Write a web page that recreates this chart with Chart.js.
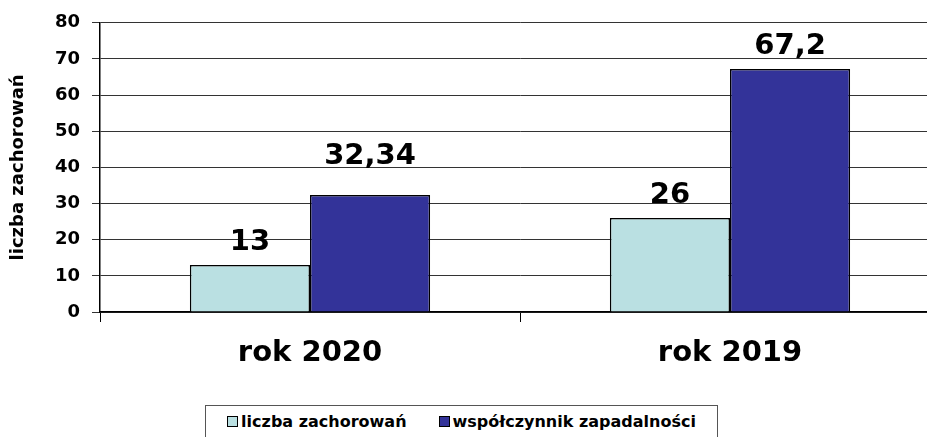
<!DOCTYPE html>
<html>
<head>
<meta charset="utf-8">
<script src="https://cdn.jsdelivr.net/npm/chart.js@4"></script>
<style>
  body { margin: 0; background: #fff; overflow: hidden; width: 927px; height: 437px; position: relative; }
  #wrap { position: absolute; left: 0; top: 0; width: 945px; height: 437px; }
  #legend {
    position: absolute; left: 205px; top: 405px; width: 513px; height: 40px;
    border: 1px solid #555; box-sizing: border-box; background: #fff;
    font: bold 16px "DejaVu Sans", sans-serif; color: #000;
    display: flex; align-items: flex-start; justify-content: center; padding-top: 6px;
  }
  #legend span.item { display: inline-flex; align-items: center; margin: 0 16px; }
  #legend span.box { width: 9px; height: 9px; border: 1px solid #000; margin-right: 3px; display: inline-block; }
</style>
</head>
<body>
<div id="wrap"><canvas id="chart"></canvas></div>
<div id="legend"></div>
<script>
const categories = ["rok 2020", "rok 2019"];
const seriesNames = ["liczba zachorowań", "współczynnik zapadalności"];
const cases = [13, 26];
const incidence = [32.34, 67.2];
const yTicks = [0, 10, 20, 30, 40, 50, 60, 70, 80];

const colors = ["#BAE0E2", "#333399"];
const FONT = "'DejaVu Sans', sans-serif";

// value labels above bars, polish decimal comma
const valueLabels = {
  id: "valueLabels",
  afterDatasetsDraw(chart, args, opts) {
    const ctx = chart.ctx;
    ctx.save();
    ctx.font = "bold 29px " + FONT;
    ctx.fillStyle = "#000";
    ctx.textAlign = "center";
    ctx.textBaseline = "alphabetic";
    chart.data.datasets.forEach((ds, i) => {
      const meta = chart.getDatasetMeta(i);
      meta.data.forEach((bar, j) => {
        const extra = (opts.extra[i] && opts.extra[i][j]) || 0;
        const text = String(ds.data[j]).replace(".", ",");
        ctx.fillText(text, bar.x, bar.y - 15 - extra);
      });
    });
    ctx.restore();
  },
};

const chart = new Chart(document.getElementById("chart"), {
  type: "bar",
  data: {
    labels: categories,
    datasets: [
      {
        label: seriesNames[0],
        data: cases,
        backgroundColor: colors[0],
        borderColor: "#000",
        borderWidth: 1.5,
        categoryPercentage: 0.572,
        barPercentage: 1.0,
      },
      {
        label: seriesNames[1],
        data: incidence,
        backgroundColor: colors[1],
        borderColor: "#000",
        borderWidth: 1.5,
        categoryPercentage: 0.572,
        barPercentage: 1.0,
      },
    ],
  },
  options: {
    responsive: true,
    maintainAspectRatio: false,
    animation: false,
    layout: { padding: { top: 22, right: 5, bottom: 0, left: 0 } },
    plugins: {
      legend: { display: false },
      tooltip: { enabled: false },
      valueLabels: { extra: [[0, 0], [16, 0]] },
    },
    scales: {
      x: {
        afterFit(scale) {
          scale.height = 125;
        },
        grid: {
          offset: true,
          drawOnChartArea: false,
          drawTicks: true,
          tickLength: 10,
          color: "#000",
        },
        border: { color: "#000", width: 1.5 },
        ticks: {
          color: "#000",
          font: { family: FONT, size: 29, weight: "bold" },
          padding: 14,
        },
      },
      y: {
        min: 0,
        max: 80,
        afterBuildTicks(scale) {
          scale.ticks = yTicks.map((v) => ({ value: v }));
        },
        afterFit(scale) {
          scale.width = 100;
        },
        grid: { color: "#333", lineWidth: 1, tickLength: 8 },
        border: { color: "#000", width: 1.5 },
        ticks: {
          color: "#000",
          font: { family: FONT, size: 18, weight: "bold" },
          padding: 12,
        },
        title: {
          display: true,
          text: "liczba zachorowań",
          color: "#000",
          font: { family: FONT, size: 18, weight: "bold" },
          padding: { top: 8, bottom: 0 },
        },
      },
    },
  },
  plugins: [valueLabels],
});

// legend box
const legendEl = document.getElementById("legend");
seriesNames.forEach((name, i) => {
  const item = document.createElement("span");
  item.className = "item";
  const box = document.createElement("span");
  box.className = "box";
  box.style.background = colors[i];
  item.appendChild(box);
  item.appendChild(document.createTextNode(name));
  legendEl.appendChild(item);
});
</script>
</body>
</html>
